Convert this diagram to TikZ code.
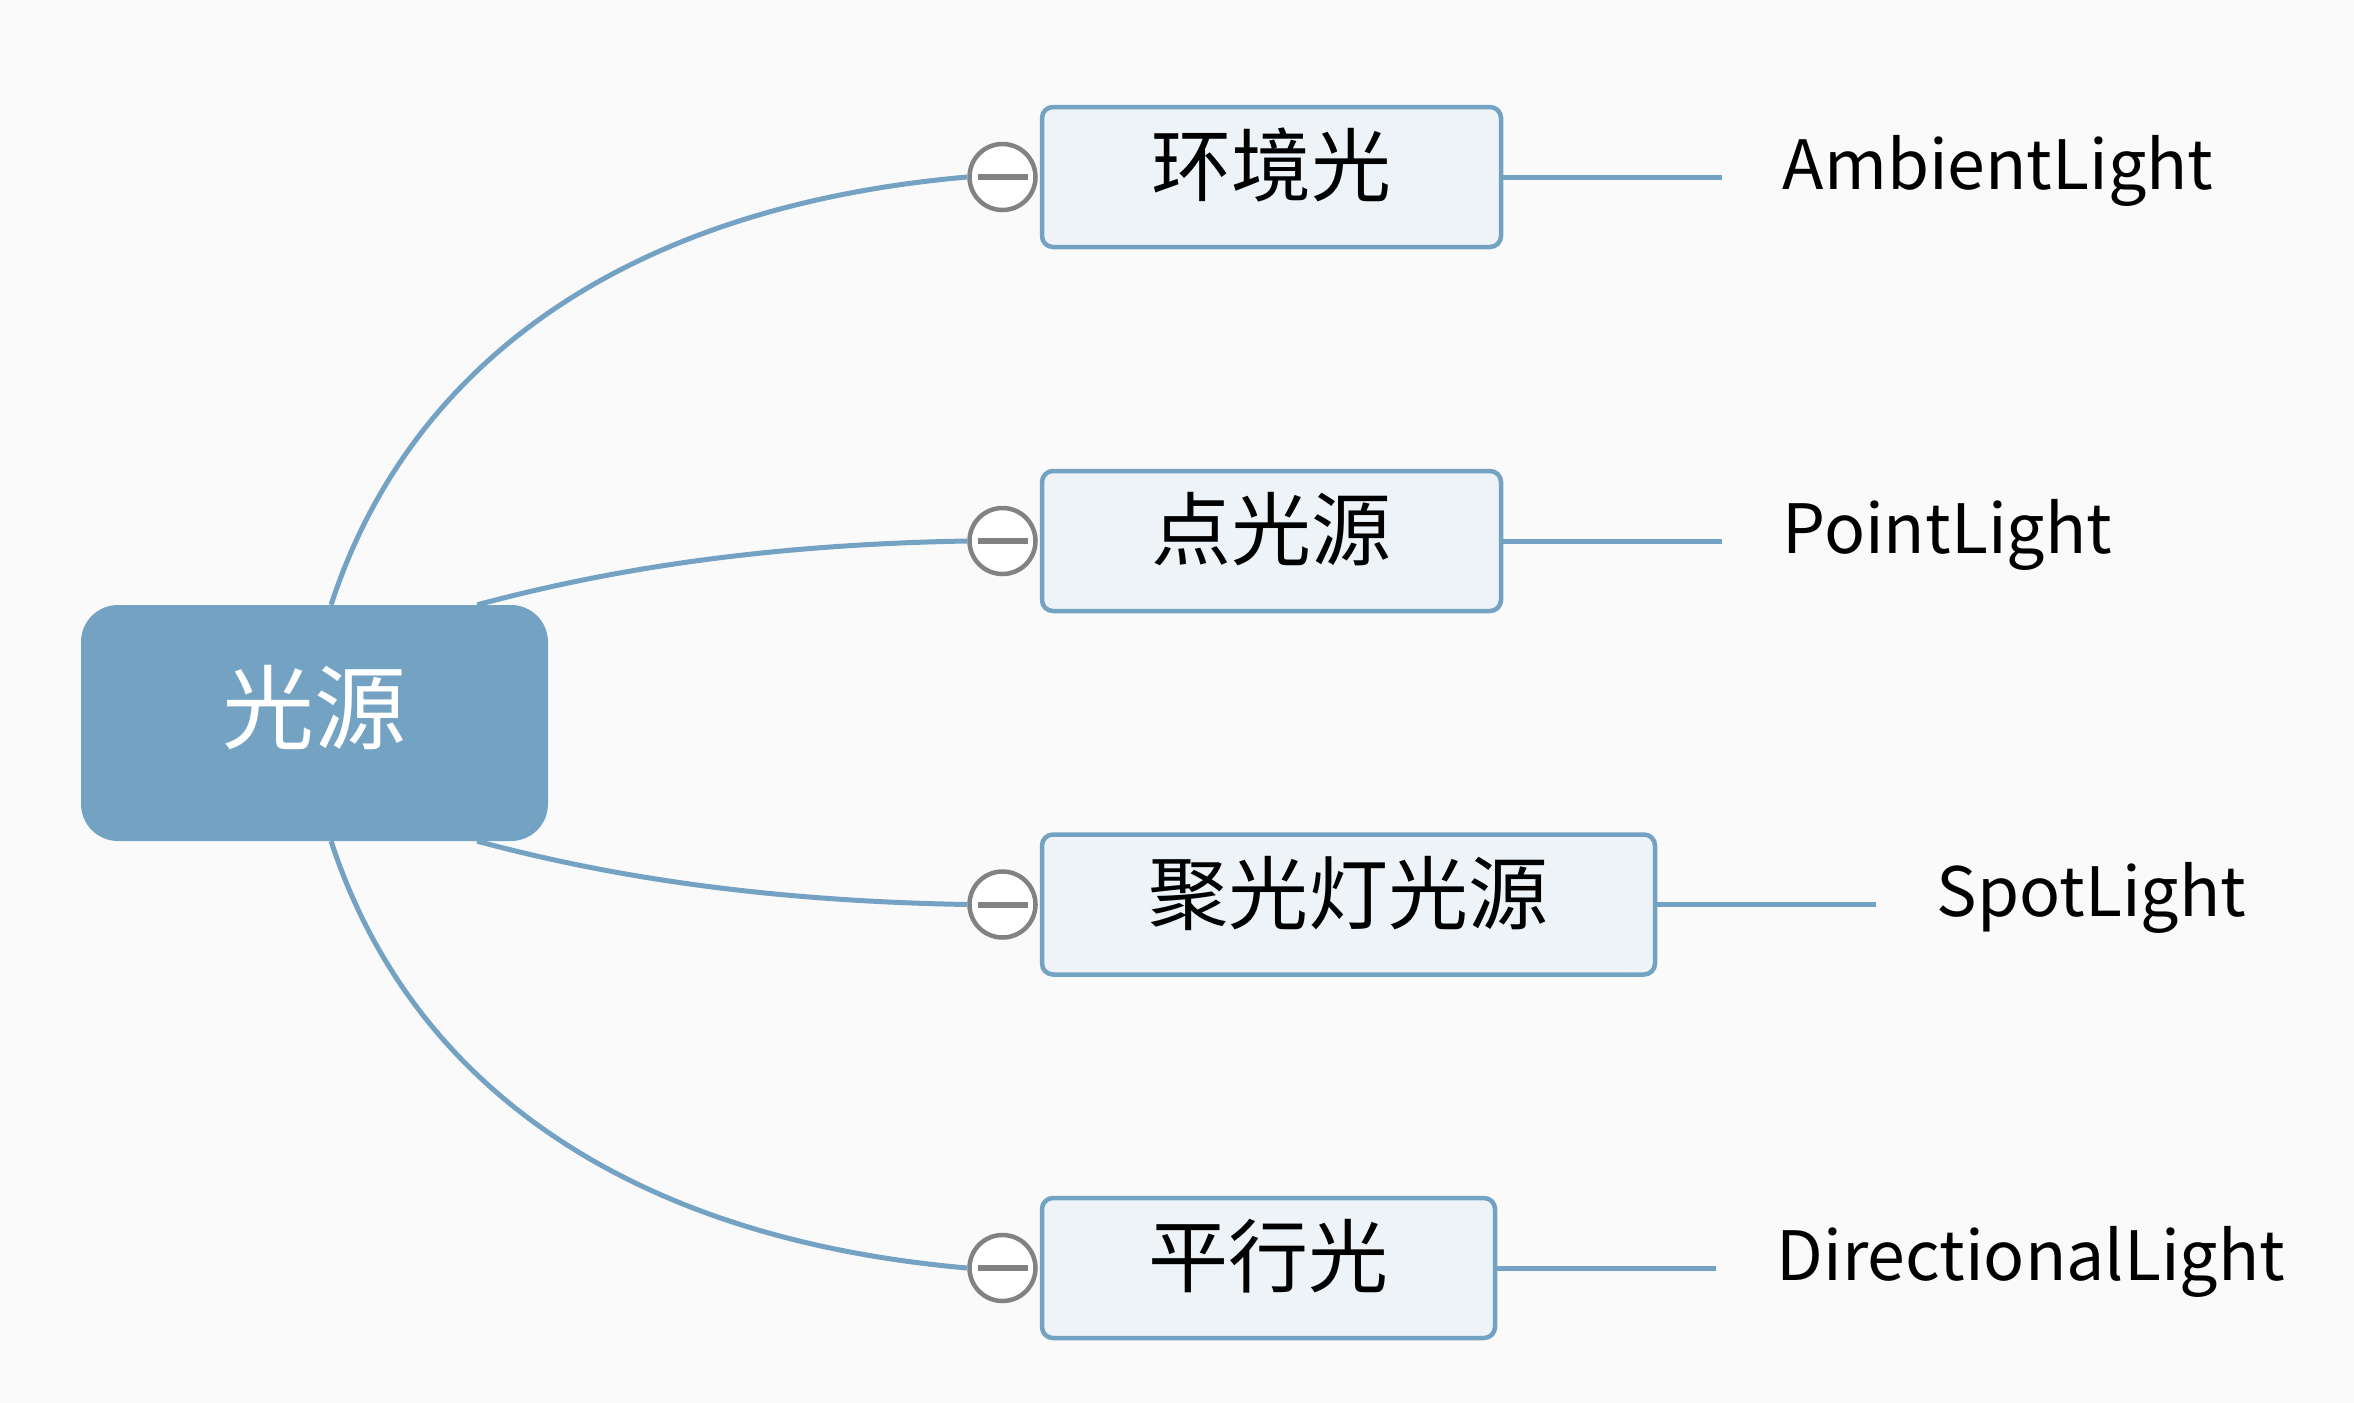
\documentclass[tikz,border=0pt]{standalone}
\usepackage{fontspec}
\setmainfont{Noto Sans CJK SC}
\usepackage{tikz}
\usetikzlibrary{calc,positioning}
\definecolor{mapblue}{HTML}{74A2C2}
\definecolor{mapfill}{HTML}{EEF3F7}
\definecolor{mapgray}{HTML}{828282}
\definecolor{paper}{HTML}{FAFAFA}
\tikzstyle{root}=[fill=mapblue, rounded corners=37pt, minimum width=467pt, minimum height=236pt, text=white, font=\fontsize{92}{110}\selectfont, text height=70pt, text depth=32pt]
\tikzstyle{topic}=[draw=mapblue, line width=4.5pt, fill=mapfill, rounded corners=11pt, minimum height=140pt, font=\fontsize{80}{96}\selectfont, text height=60pt, text depth=23pt]
\tikzstyle{branch}=[draw=mapblue, line width=5pt]
\tikzstyle{minus}=[circle, draw=mapgray, line width=4.5pt, fill=white, minimum size=66pt, inner sep=0pt]
\tikzstyle{tag}=[font=\fontsize{68}{82}\selectfont, anchor=base west]
\newcommand{\ntopic}[5]{
	\node[topic, minimum width=#4] (#1) at #2 {#3};
	\node[minus, left=2pt of #1.west] (#1m) {};
	\draw[mapgray, line width=6pt] ($(#1m)+(-25,0)$) -- ($(#1m)+(25,0)$);
	\draw[branch] (#1.east) -- ++(219,0) coordinate (#1e);
	\node[tag] (#1t) at ($(#1e)+(57,12)$) {#5};
}

\begin{document}
\begin{tikzpicture}[x=1pt, y=-1pt]
	\fill[paper] (0,0) rectangle (2354,1403);
	\useasboundingbox (0,0) rectangle (2354,1403);
	\node[root] (light) at (314.5,723) {光源};
	\ntopic{ambient}{(1271.5,177)}{环境光}{459pt}{AmbientLight}
	\ntopic{point}{(1271.5,541)}{点光源}{459pt}{PointLight}
	\ntopic{spot}{(1348.5,904.5)}{聚光灯光源}{613pt}{SpotLight}
	\ntopic{directional}{(1268.5,1268)}{平行光}{453pt}{DirectionalLight}
	\draw[branch] (light.82) .. controls +(72:240pt) and +(185:360pt) .. (ambientm.west);
	\draw[branch] (light.36) .. controls +(15:140pt) and +(181:200pt) .. (pointm.west);
	\draw[branch] (light.-36) .. controls +(-15:140pt) and +(179:200pt) .. (spotm.west);
	\draw[branch] (light.-82) .. controls +(-72:240pt) and +(175:360pt) .. (directionalm.west);
\end{tikzpicture}
\end{document}
